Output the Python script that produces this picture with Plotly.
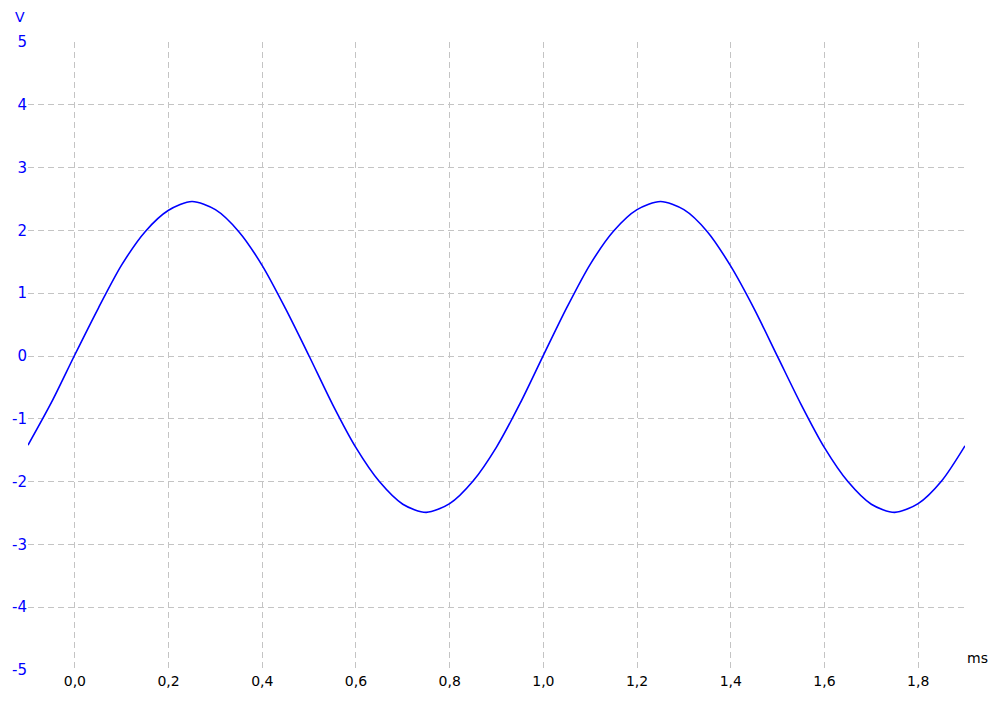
import plotly.graph_objects as go

time_ms = [-0.10, -0.05, 0.00, 0.05, 0.10, 0.15, 0.20, 0.25, 0.30, 0.35, 0.40,
           0.45, 0.50, 0.55, 0.60, 0.65, 0.70, 0.75, 0.80, 0.85, 0.90,
           0.95, 1.00, 1.05, 1.10, 1.15, 1.20, 1.25, 1.30, 1.35, 1.40,
           1.45, 1.50, 1.55, 1.60, 1.65, 1.70, 1.75, 1.80, 1.85, 1.90]
volts = [-1.42, -0.74, 0.02, 0.76, 1.45, 1.98, 2.32, 2.46, 2.33, 1.98, 1.44,
         0.75, 0.00, -0.77, -1.46, -2.00, -2.36, -2.49, -2.35, -1.99, -1.45,
         -0.76, 0.01, 0.77, 1.46, 1.99, 2.33, 2.46, 2.33, 1.98, 1.43,
         0.75, -0.01, -0.77, -1.46, -2.00, -2.36, -2.49, -2.35, -1.99, -1.43]

x_tickvals = [0.0, 0.2, 0.4, 0.6, 0.8, 1.0, 1.2, 1.4, 1.6, 1.8]
x_ticktext = ["0,0", "0,2", "0,4", "0,6", "0,8", "1,0", "1,2", "1,4", "1,6", "1,8"]
y_tickvals = [-5, -4, -3, -2, -1, 0, 1, 2, 3, 4, 5]
y_ticktext = ["-5", "-4", "-3", "-2", "-1", "0", "1", "2", "3", "4", "5"]

FONT = "DejaVu Sans, Verdana, sans-serif"
W, H = 981, 685
ML, MR, MT, MB = 20, 24, 34, 23
OFF = 8  # page body margin

fig = go.Figure()
fig.add_trace(go.Scatter(x=time_ms, y=volts, mode="lines",
                         line=dict(color="#0000ff", width=1.6, shape="spline", smoothing=0.8),
                         showlegend=False, hoverinfo="skip"))

pw, ph = W - ML - MR, H - MT - MB


def paper_x(px):
    return (px - OFF - ML) / pw


def paper_y(py):
    return 1 - (py - OFF - MT) / ph


fig.update_layout(
    width=W, height=H,
    margin=dict(l=ML, r=MR, t=MT, b=MB, autoexpand=False),
    paper_bgcolor="white", plot_bgcolor="white",
    font=dict(family=FONT, size=15, color="black"),
    xaxis=dict(range=[-0.1, 1.9], tickvals=x_tickvals, ticktext=x_ticktext,
               showgrid=True, gridcolor="#c4c4c4", griddash="6px,4px", gridwidth=1,
               zeroline=False, showline=False, ticks="", ticklabelstandoff=1,
               tickfont=dict(family=FONT, color="black", size=14)),
    yaxis=dict(range=[-5, 5], tickvals=y_tickvals, ticktext=y_ticktext,
               showgrid=True, gridcolor="#c4c4c4", griddash="6px,4px", gridwidth=1,
               zeroline=False, showline=False, ticks="",
               tickfont=dict(family=FONT, color="#0000ff", size=15)),
    annotations=[
        dict(text="V", x=paper_x(20), y=paper_y(17), xref="paper", yref="paper",
             xanchor="center", yanchor="middle",
             showarrow=False, font=dict(family=FONT, color="#0000ff", size=14)),
        dict(text="ms", x=paper_x(977), y=paper_y(658), xref="paper", yref="paper",
             xanchor="center", yanchor="middle",
             showarrow=False, font=dict(family=FONT, color="black", size=14)),
    ],
)

fig.write_html("out.html")
